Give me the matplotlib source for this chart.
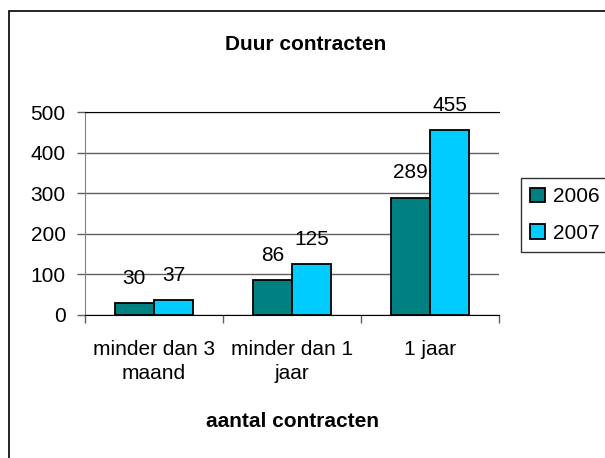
import matplotlib.pyplot as plt
import numpy as np
from matplotlib.patches import Rectangle

# Duur contracten, aantal per categorie
categories = ["minder dan 3\nmaand", "minder dan 1\njaar", "1 jaar"]
years = ["2006", "2007"]
values_2006 = [30, 86, 289]
values_2007 = [37, 125, 455]
colors = ["#008080", "#00CCFF"]

plt.rcParams['font.family'] = ['Liberation Sans', 'DejaVu Sans']
plt.rcParams['font.size'] = 15

fig = plt.figure(figsize=(6.05, 4.58), dpi=100)
ax = fig.add_axes([85 / 605, 1 - 315 / 458, 414 / 605, 203 / 458])

# chart border (runs off the right and bottom edge)
fig.patches.append(Rectangle((9 / 605, -0.1), 1.2, 1.1 - 11 / 458,
                             transform=fig.transFigure, fill=False,
                             edgecolor='black', linewidth=1.2))

x = np.arange(len(categories))
w = 1 / 3.5
series = [values_2006, values_2007]
for i, vals in enumerate(series):
    pos = x + (i - 0.5) * w
    bars = ax.bar(pos, vals, width=w, color=colors[i], edgecolor='black',
                  linewidth=1.3, label=years[i], zorder=3)
    for b, v in zip(bars, vals):
        ax.annotate(str(v), (b.get_x() + b.get_width() / 2, v),
                    xytext=(0, 11), textcoords='offset points',
                    ha='center', va='bottom', fontsize=15)

ax.set_xlim(-0.5, 2.5)
ax.set_ylim(0, 500)
ax.set_yticks(range(0, 501, 100))
ax.yaxis.grid(True, color='#606060', linewidth=1, zorder=0)
ax.set_axisbelow(True)

ax.set_xticks(x)
ax.set_xticklabels(categories, linespacing=1.35)
ax.tick_params(axis='x', which='major', length=0, pad=18)
ax.set_xticks([-0.5, 0.5, 1.5, 2.5], minor=True)
ax.tick_params(axis='x', which='minor', length=6, width=1, color='#606060')
ax.tick_params(axis='y', length=6, width=1, color='#606060', pad=8)

ax.spines['right'].set_visible(False)
ax.spines['top'].set_color('black')
ax.spines['left'].set_color('#808080')
ax.spines['bottom'].set_color('black')

ax.set_xlabel("aantal contracten", fontweight='bold', labelpad=21)
fig.text(0.505, 1 - 44 / 458, "Duur contracten", ha='center', va='center',
         fontweight='bold', fontsize=15)

leg = ax.legend(loc='center left', bbox_to_anchor=(521 / 605, 1 - 215 / 458),
                bbox_transform=fig.transFigure, frameon=True, fancybox=False,
                edgecolor='black', handlelength=0.7, handleheight=0.7,
                handletextpad=0.4, borderpad=0.45, labelspacing=0.85,
                borderaxespad=0)
leg.get_frame().set_linewidth(1)

fig.savefig("out.png", dpi=100)
